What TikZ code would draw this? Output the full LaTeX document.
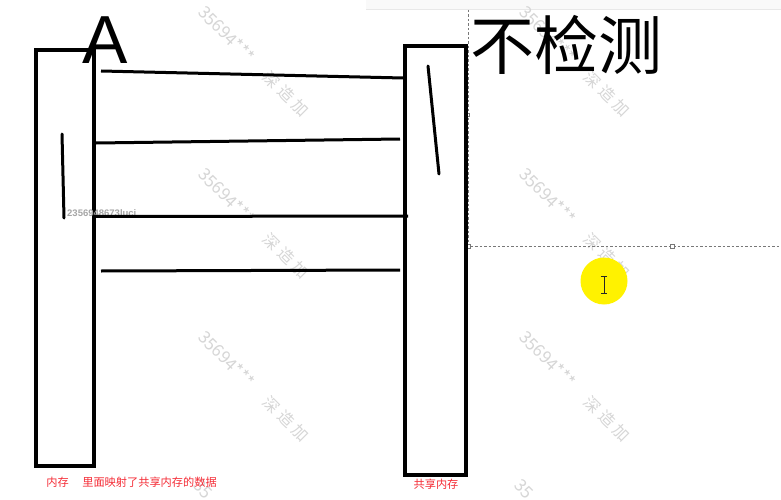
\documentclass[tikz,border=0pt]{standalone}
\usepackage{fontspec}
\setmainfont{Liberation Sans}
\newfontfamily\cjk{Noto Sans CJK SC}
\definecolor{lbl}{RGB}{245,45,55}
\definecolor{wm}{RGB}{214,214,214}
\definecolor{selc}{RGB}{120,120,120}
\begin{document}
\begin{tikzpicture}[x=1pt,y=-1pt,
  membox/.style={draw=black, line width=3.5pt, inner sep=0pt, fill=none},
  link/.style={draw=black, line width=3pt},
  stroke/.style={draw=black, line width=3pt, line cap=round},
  lab/.style={font=\cjk\fontsize{11.2}{12}\selectfont, text=lbl, inner sep=0pt},
  wmnum/.style={font=\cjk\fontsize{17}{17}\selectfont, text=wm, rotate=-45, inner sep=0pt},
  wmcjk/.style={font=\cjk\fontsize{16}{16}\selectfont, text=wm, rotate=-45, inner sep=0pt},
  sel/.style={draw=selc, line width=0.6pt, dash pattern=on 2.5pt off 2pt},
  handle/.style={draw=selc, fill=white, line width=0.5pt, minimum size=4pt, inner sep=0pt}
]
\useasboundingbox (0,0) rectangle (781,500);
\clip (0,0) rectangle (781,500);
\fill[white] (0,0) rectangle (781,500);

% top toolbar strip
\fill[gray!5] (366,0) rectangle (781,9);
\draw[gray!18, line width=1pt] (366,10) -- (781,10);

% watermarks
\foreach \x in {196,517}{
  \foreach \y in {5,167,330}{
    \node[wmnum] (wn-\x-\y) at (\x+31,\y+29) {35694***};
    \node[wmcjk] (wc-\x-\y) at (\x+90,\y+89) {深\hspace{4pt}造\hspace{4pt}加};
  }
  \node[wmnum] (wb-\x) at (\x+7,489) {35};
}

% selection frame
\draw[sel] (468,10) -- (468,246) -- (781,246);
\node[handle] (h1) at (468,246) {};
\node[handle] (h2) at (672,246) {};
\node[handle, minimum size=2.5pt] (h3) at (468,115) {};

% yellow highlight and cursor
\fill[yellow] (604,281) circle (23.5);
\draw[gray!30!black, line width=0.9pt] (604,276) -- (604,293);
\draw[gray!30!black, line width=0.8pt] (601,276) -- (607,276) (601,293) -- (607,293);

% memory boxes
\node[membox, minimum width=58pt, minimum height=416pt] (mem) at (65,258) {};
\node[membox, minimum width=61pt, minimum height=429pt] (shm) at (435.5,260.5) {};

% big texts
\node[font=\fontsize{68}{68}\selectfont, inner sep=0pt, anchor=base] (A) at (105,64) {A};
\node[font=\cjk\fontsize{64}{64}\selectfont, inner sep=0pt] (nojc) at (566,45) {不检测};

% small grey text
\node[font=\bfseries\fontsize{9.5}{10}\selectfont, text=gray!70, inner sep=0pt, anchor=west] (id) at (67,214) {2356948673lucj};

% connectors
\coordinate (a1) at (101,71);  \coordinate (b1) at (403,78);
\coordinate (a2) at (96,143);  \coordinate (b2) at (400,139);
\coordinate (a3) at (95,216.5);  \coordinate (b3) at (408,216);
\coordinate (a4) at (101,271); \coordinate (b4) at (400,270);
\draw[link] (a1) -- (b1);
\draw[link] (a2) -- (b2);
\draw[link] (a3) -- (b3);
\draw[link] (a4) -- (b4);

% short strokes
\coordinate (s1) at (62,134); \coordinate (s2) at (64,218);
\coordinate (s3) at (428,66); \coordinate (s4) at (439,174);
\draw[stroke] (s1) -- (s2);
\draw[stroke] (s3) -- (s4);

% labels
\node[lab] (l1) at (57.5,482) {内存};
\node[lab] (l2) at (149.5,482) {里面映射了共享内存的数据};
\node[lab] (l3) at (436,484.5) {共享内存};
\end{tikzpicture}
\end{document}
